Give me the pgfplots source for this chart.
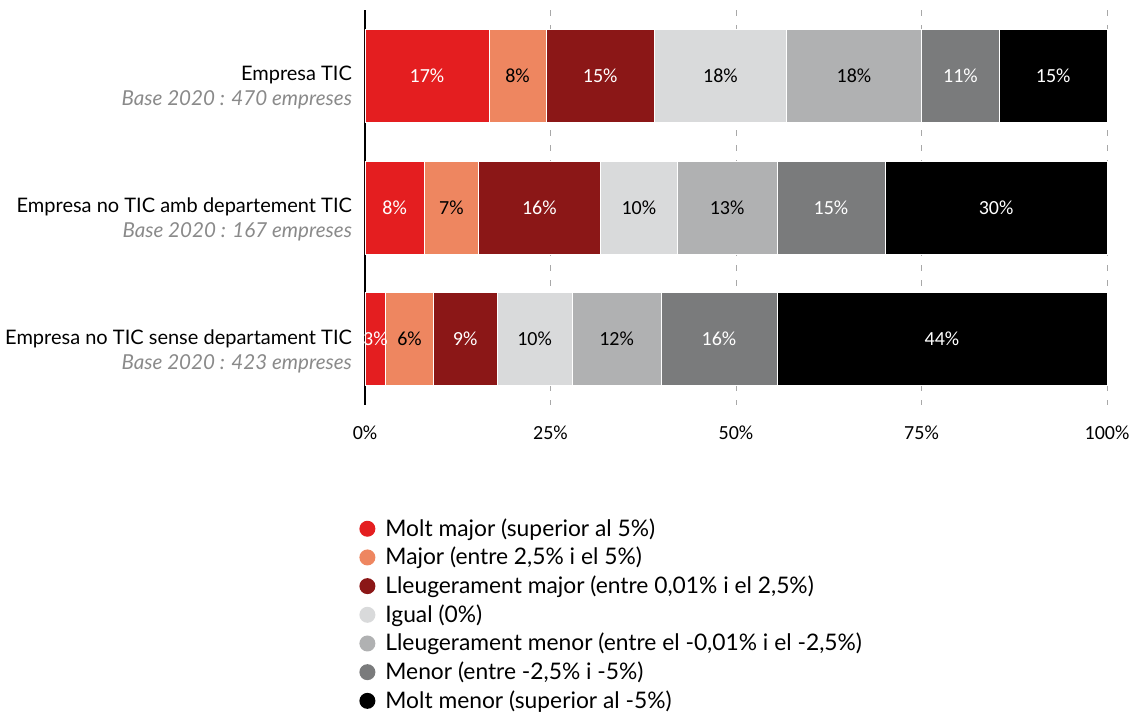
\documentclass[border=0pt]{standalone}
\usepackage{pgfplots}
\usepackage{pgfplotstable}
\pgfplotsset{compat=1.18}
\usepackage{fontspec}
\setmainfont{Lato}
\newfontfamily\carlito{Carlito}
\definecolor{c1}{HTML}{E41E20}
\definecolor{c2}{HTML}{EE8660}
\definecolor{c3}{HTML}{8B1717}
\definecolor{c4}{HTML}{D9DADB}
\definecolor{c5}{HTML}{B0B1B2}
\definecolor{c6}{HTML}{7A7B7C}
\definecolor{c7}{HTML}{000000}
\definecolor{labgray}{HTML}{8A8A8A}
\definecolor{gridgray}{HTML}{A8A8A8}
\pgfplotstableread{
y a la b lb c lc d ld e le f lf g lg
0 16.7 17 7.7 8 14.6 15 17.8 18 18.2 18 10.5 11 14.5 15
1 8.0 8 7.3 7 16.4 16 10.4 10 13.4 13 14.6 15 29.9 30
2 2.8 3 6.4 6 8.6 9 10.1 10 12.0 12 15.6 16 44.5 44
}\data
\begin{document}
\begin{tikzpicture}
\useasboundingbox[fill=white] (-182.5pt,-154.5pt) rectangle (389.5pt,202.5pt);
\begin{axis}[
  at={(0,0)}, anchor=south west,
  scale only axis,
  width=371pt, height=197.5pt,
  xbar stacked,
  bar width=46.5pt,
  xmin=0, xmax=100,
  ymin=-0.5, ymax=2.5,
  y dir=reverse,
  ytick={0,1,2},
  yticklabels={
    {Empresa TIC\\{\color{labgray}\itshape\fontsize{10.3}{12.5}\selectfont Base 2020 : 470 empreses}},
    {Empresa no TIC amb departement TIC\\{\color{labgray}\itshape\fontsize{10.3}{12.5}\selectfont Base 2020 : 167 empreses}},
    {Empresa no TIC sense departament TIC\\{\color{labgray}\itshape\fontsize{10.3}{12.5}\selectfont Base 2020 : 423 empreses}}},
  yticklabel style={align=right, font=\fontsize{10}{12.5}\selectfont, yshift=-6pt, xshift=-3pt},
  xtick={0,25,50,75,100},
  xticklabels={0\%,25\%,50\%,75\%,100\%},
  xticklabel style={font=\carlito\fontsize{10}{12}\selectfont, yshift=-7pt},
  major tick length=0pt,
  axis lines*=left,
  x axis line style={draw=none},
  y axis line style={draw=black, line width=0.6pt},
  xmajorgrids,
  major grid style={gridgray, line width=0.5pt, dash pattern=on 3pt off 4.5pt},
  point meta=explicit symbolic,
  nodes near coords={\pgfplotspointmeta\%},
  every node near coord/.append style={font=\carlito\fontsize{10}{12}\selectfont},
  legend style={draw=none, fill=none, at={(rel axis cs:0,0)}, anchor=north west,
    xshift=-3pt, yshift=-54.5pt, font=\fontsize{11.4}{13}\selectfont,
    row sep=0pt, inner sep=0pt,
    /tikz/every odd column/.append style={column sep=3pt}},
  legend cell align=left,
  legend image code/.code={\fill[#1, draw=none] (0pt,0pt) circle (4pt);},
  clip=false,
]
\addplot[fill=c1, draw=white, line width=0.3pt, every node near coord/.append style={text=white}] table[x=a, y=y, meta=la] {\data};
\addplot[fill=c2, draw=white, line width=0.3pt, every node near coord/.append style={text=black}] table[x=b, y=y, meta=lb] {\data};
\addplot[fill=c3, draw=white, line width=0.3pt, every node near coord/.append style={text=white}] table[x=c, y=y, meta=lc] {\data};
\addplot[fill=c4, draw=white, line width=0.3pt, every node near coord/.append style={text=black}] table[x=d, y=y, meta=ld] {\data};
\addplot[fill=c5, draw=white, line width=0.3pt, every node near coord/.append style={text=black}] table[x=e, y=y, meta=le] {\data};
\addplot[fill=c6, draw=white, line width=0.3pt, every node near coord/.append style={text=white}] table[x=f, y=y, meta=lf] {\data};
\addplot[fill=c7, draw=white, line width=0.3pt, every node near coord/.append style={text=white}] table[x=g, y=y, meta=lg] {\data};
\legend{{Molt major (superior al 5\%)}, {Major (entre 2,5\% i el 5\%)}, {Lleugerament major (entre 0,01\% i el 2,5\%)}, {Igual (0\%)}, {Lleugerament menor (entre el -0,01\% i el -2,5\%)}, {Menor (entre -2,5\% i -5\%)}, {Molt menor (superior al -5\%)}}
\end{axis}
\end{tikzpicture}
\end{document}
